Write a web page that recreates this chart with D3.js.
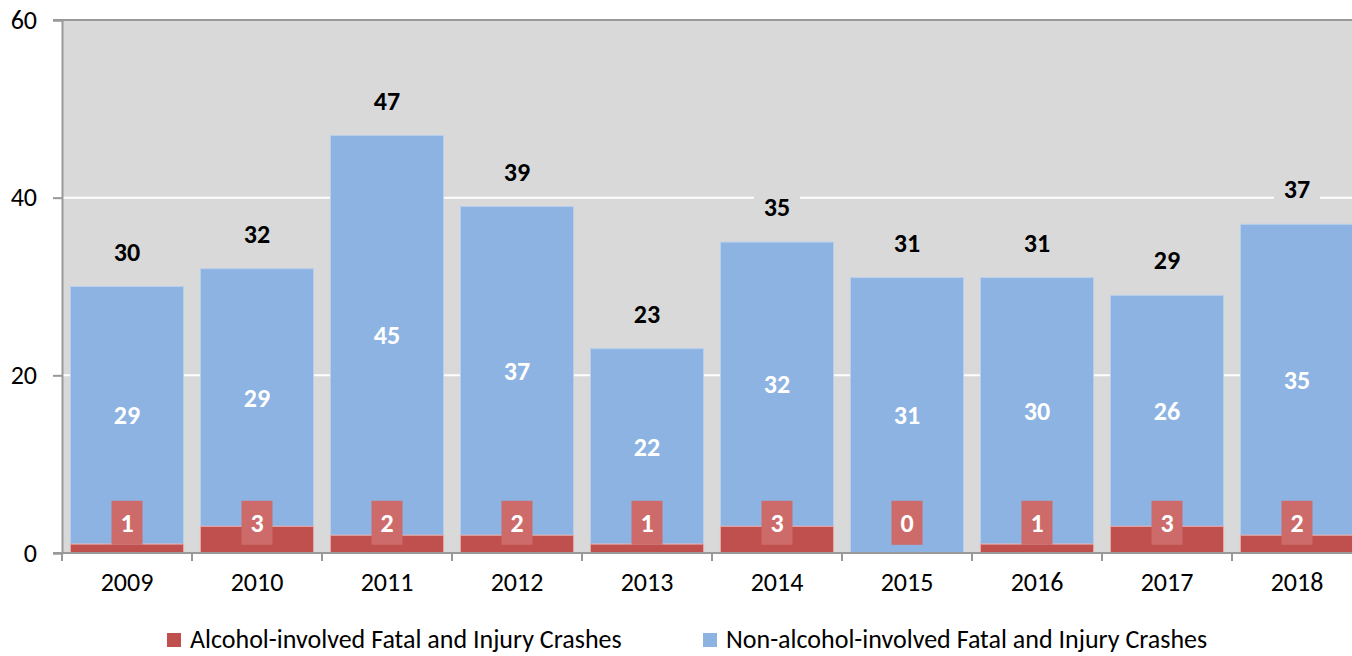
<!DOCTYPE html>
<meta http-equiv="Content-type" content="text/html; charset=UTF-8"/>
<style>
body { margin: 0; background: #fff; }
* { font-family: 'Carlito', 'Liberation Sans', sans-serif; }
</style>
<svg width="1352" height="656"></svg>
<script src="https://d3js.org/d3.v7.min.js"></script>
<script>
var years = ["2009","2010","2011","2012","2013","2014","2015","2016","2017","2018"];
var alcohol = [1, 3, 2, 2, 1, 3, 0, 1, 3, 2];
var nonAlcohol = [29, 29, 45, 37, 22, 32, 31, 30, 26, 35];
var totals = [30, 32, 47, 39, 23, 35, 31, 31, 29, 37];
var yTicks = [0, 20, 40, 60];
var seriesNames = ["Alcohol-involved Fatal and Injury Crashes", "Non-alcohol-involved Fatal and Injury Crashes"];

var svg = d3.select("svg"),
    margin = {top: 20, right: -10, bottom: 103, left: 62},
    width = +svg.attr("width") - margin.left - margin.right,
    height = +svg.attr("height") - margin.top - margin.bottom,
    g = svg.append("g").attr("transform", "translate(" + margin.left + "," + margin.top + ")");

var x = d3.scaleBand().domain(years).range([0, width]).paddingInner(0.13).paddingOuter(0.065);
var band = d3.scaleBand().domain(years).range([0, width]);
var y = d3.scaleLinear().domain([0, 60]).range([height, 0]);

var data = years.map(function(yr, i) {
  return {year: yr, alc: alcohol[i], non: nonAlcohol[i], total: totals[i]};
});

// plot background
g.append("rect")
    .attr("width", width).attr("height", height)
    .attr("fill", "#d9d9d9");

// gridlines
g.selectAll(".grid").data(yTicks.filter(function(t) { return t > 0 && t < 60; }))
  .enter().append("line")
    .attr("x1", 0).attr("x2", width)
    .attr("y1", function(d) { return y(d); }).attr("y2", function(d) { return y(d); })
    .attr("stroke", "#fff").attr("stroke-width", 2);

g.append("line")
    .attr("x1", -9).attr("x2", width)
    .attr("y1", 0).attr("y2", 0)
    .attr("stroke", "#999").attr("stroke-width", 2);

// non-alcohol bars (stacked on alcohol)
g.selectAll(".non").data(data).enter().append("rect")
    .attr("x", function(d) { return x(d.year); })
    .attr("width", x.bandwidth())
    .attr("y", function(d) { return y(d.alc + d.non); })
    .attr("height", function(d) { return y(d.alc) - y(d.alc + d.non); })
    .attr("fill", "#8db3e2")
    .attr("stroke", "#b8cfee").attr("stroke-width", 1);

// alcohol bars
g.selectAll(".alc").data(data).enter().append("rect")
    .attr("x", function(d) { return x(d.year); })
    .attr("width", x.bandwidth())
    .attr("y", function(d) { return y(d.alc); })
    .attr("height", function(d) { return y(0) - y(d.alc); })
    .attr("fill", "#c0504d")
    .attr("stroke", "#e6a9a8").attr("stroke-width", 1);

// non-alcohol labels
g.selectAll(".nonlab").data(data).enter().append("text")
    .attr("x", function(d) { return x(d.year) + x.bandwidth() / 2; })
    .attr("y", function(d) { return y(d.alc + d.non / 2); })
    .attr("dy", "0.35em")
    .attr("text-anchor", "middle")
    .attr("fill", "#fff")
    .style("font-weight", "bold").style("font-size", "26px")
    .text(function(d) { return d.non; });

// alcohol labels with boxes
var alcLab = g.selectAll(".alclab").data(data).enter().append("g")
    .attr("transform", function(d) {
      return "translate(" + (x(d.year) + x.bandwidth() / 2) + "," + y(3.4) + ")";
    });
alcLab.append("rect")
    .attr("x", -15.5).attr("y", -22).attr("width", 31).attr("height", 44)
    .attr("fill", "#cd6b6a");
alcLab.append("text")
    .attr("dy", "0.35em")
    .attr("text-anchor", "middle")
    .attr("fill", "#fff")
    .style("font-weight", "bold").style("font-size", "26px")
    .text(function(d) { return d.alc; });

// total labels
var totLab = g.selectAll(".totlab").data(data).enter().append("g")
    .attr("transform", function(d) {
      return "translate(" + (x(d.year) + x.bandwidth() / 2) + "," + (y(d.total) - 35) + ")";
    });
totLab.append("rect")
    .attr("x", -23).attr("y", -14).attr("width", 46).attr("height", 28)
    .attr("fill", "#d9d9d9");
totLab.append("text")
    .attr("dy", "0.35em")
    .attr("text-anchor", "middle")
    .attr("fill", "#000")
    .style("font-weight", "bold").style("font-size", "26px")
    .text(function(d) { return d.total; });

// y axis
var yAxis = g.append("g")
    .call(d3.axisLeft(y).tickValues(yTicks).tickSize(9).tickPadding(16));
yAxis.select(".domain").attr("stroke", "#999").attr("stroke-width", 2);
yAxis.selectAll(".tick line").attr("stroke", "#999").attr("stroke-width", 2);
yAxis.selectAll("text").style("font-size", "26px").attr("fill", "#000");

// x axis
var xAxis = g.append("g")
    .attr("transform", "translate(0," + height + ")")
    .call(d3.axisBottom(band).tickSize(0).tickPadding(20));
xAxis.select(".domain").remove();
xAxis.append("line")
    .attr("x1", -9).attr("x2", width)
    .attr("stroke", "#999").attr("stroke-width", 2);
xAxis.selectAll(".sep").data(years).enter().append("line")
    .attr("x1", function(d) { return band(d); }).attr("x2", function(d) { return band(d); })
    .attr("y1", 0).attr("y2", 8)
    .attr("stroke", "#999").attr("stroke-width", 2);
xAxis.selectAll(".tick text").style("font-size", "26px").attr("fill", "#000");

// legend
var legendX = [167, 703], legendColors = ["#c0504d", "#8db3e2"];
var legend = svg.selectAll(".legend").data(seriesNames).enter().append("g")
    .attr("transform", function(d, i) { return "translate(" + legendX[i] + ",639)"; });
legend.append("rect")
    .attr("x", 0).attr("y", -6).attr("width", 14).attr("height", 14)
    .attr("fill", function(d, i) { return legendColors[i]; });
legend.append("text")
    .attr("x", 23).attr("dy", "0.35em")
    .style("font-size", "26px")
    .text(function(d) { return d; });
</script>
